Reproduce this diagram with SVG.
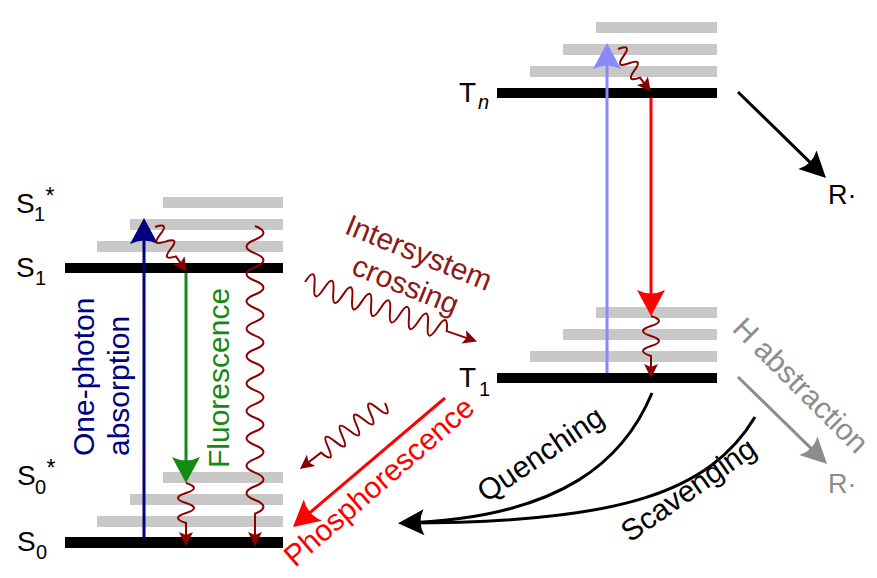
<svg xmlns="http://www.w3.org/2000/svg" width="877" height="578" viewBox="0 0 877 578">
<style>
text{font-family:"Liberation Sans",Arial,Helvetica,sans-serif;}
.bar{fill:#000}
.vib{fill:#c8c8c8}
.lbl{font-size:28px}
.sb{font-size:20px}
.ast{font-size:23px}
.big{font-size:30px}
.ln{fill:none;stroke-width:3}
.wv{fill:none;stroke:#8b0000;stroke-width:2;marker-end:url(#mw)}
</style>
<defs>
<marker id="aNavy" markerUnits="userSpaceOnUse" viewBox="-20 -15 30 30" markerWidth="30" markerHeight="30" refX="0" refY="0" orient="auto"><path d="M8,0 L-18,-14 Q-11,0 -18,14 Z" fill="#000080"/></marker>
<marker id="aGreen" markerUnits="userSpaceOnUse" viewBox="-20 -15 30 30" markerWidth="30" markerHeight="30" refX="0" refY="0" orient="auto"><path d="M8,0 L-18,-14 Q-11,0 -18,14 Z" fill="#138a13"/></marker>
<marker id="aBlue" markerUnits="userSpaceOnUse" viewBox="-20 -15 30 30" markerWidth="30" markerHeight="30" refX="0" refY="0" orient="auto"><path d="M8,0 L-18,-14 Q-11,0 -18,14 Z" fill="#8888ff"/></marker>
<marker id="aRed" markerUnits="userSpaceOnUse" viewBox="-20 -15 30 30" markerWidth="30" markerHeight="30" refX="0" refY="0" orient="auto"><path d="M8,0 L-18,-14 Q-11,0 -18,14 Z" fill="#ff0000"/></marker>
<marker id="aBlack" markerUnits="userSpaceOnUse" viewBox="-20 -15 30 30" markerWidth="30" markerHeight="30" refX="0" refY="0" orient="auto"><path d="M8,0 L-18,-13 Q-11,0 -18,13 Z" fill="#000"/></marker>
<marker id="aGray" markerUnits="userSpaceOnUse" viewBox="-20 -15 30 30" markerWidth="30" markerHeight="30" refX="0" refY="0" orient="auto"><path d="M8,0 L-18,-13 Q-11,0 -18,13 Z" fill="#8c8c8c"/></marker>
<marker id="mw" markerUnits="userSpaceOnUse" viewBox="-10 -8 18 16" markerWidth="18" markerHeight="16" refX="0" refY="0" orient="auto"><path d="M6,0 L-8,-7 L-5,0 L-8,7 Z" fill="#8b0000"/></marker>
</defs>
<rect width="877" height="578" fill="#fff"/>

<g id="S1">
<rect class="vib" x="163" y="197" width="120" height="11"/>
<rect class="vib" x="130" y="219" width="153" height="11"/>
<rect class="vib" x="97" y="241" width="186" height="11"/>
<rect class="bar" x="65" y="263" width="218" height="10"/>
<text class="lbl" x="16" y="213">S<tspan class="sb" x="34" y="221">1</tspan><tspan class="ast" x="45.5" y="204">*</tspan></text>
<text class="lbl" x="16" y="277">S<tspan class="sb" x="35" y="285">1</tspan></text>
</g>

<g id="S0">
<rect class="vib" x="163" y="472" width="120" height="11"/>
<rect class="vib" x="130" y="494" width="153" height="11"/>
<rect class="vib" x="97" y="516" width="186" height="11"/>
<rect class="bar" x="65" y="537" width="218" height="11"/>
<text class="lbl" x="17" y="485">S<tspan class="sb" x="35" y="494">0</tspan><tspan class="ast" x="46.5" y="476">*</tspan></text>
<text class="lbl" x="17" y="551">S<tspan class="sb" x="36" y="559">0</tspan></text>
</g>

<g id="Tn">
<rect class="vib" x="596" y="22" width="121" height="11"/>
<rect class="vib" x="563" y="44" width="154" height="11"/>
<rect class="vib" x="530" y="66" width="187" height="11"/>
<rect class="bar" x="497" y="88" width="220" height="10"/>
<text class="lbl" x="459" y="102">T<tspan class="sb" x="478" y="109" font-style="italic">n</tspan></text>
</g>

<g id="T1">
<rect class="vib" x="596" y="307" width="121" height="11"/>
<rect class="vib" x="563" y="329" width="154" height="11"/>
<rect class="vib" x="530" y="351" width="187" height="11"/>
<rect class="bar" x="497" y="373" width="220" height="10"/>
<text class="lbl" x="459" y="387">T<tspan class="sb" x="479" y="396">1</tspan></text>
</g>

<g id="R1">
<text font-size="27" x="828" y="204">R·</text>
</g>
<g id="R2">
<text font-size="27" x="828" y="493" fill="#8c8c8c">R·</text>
</g>

<g id="connectors">
<path class="ln" stroke="#000080" d="M144,537 L144,226" marker-end="url(#aNavy)"/>
<path class="ln" stroke="#138a13" d="M186,273 L186,475" marker-end="url(#aGreen)"/>
<path class="ln" stroke="#8888ff" d="M607,373 L607,51" marker-end="url(#aBlue)"/>
<path class="ln" stroke="#ff0000" d="M651,98 L651,308" marker-end="url(#aRed)"/>
<path class="ln" stroke="#ff0000" d="M445,398 L299.1,521.8" marker-end="url(#aRed)"/>
<path class="ln" stroke="#000" d="M738,92 L820.3,172.4" marker-end="url(#aBlack)"/>
<path class="ln" stroke="#8c8c8c" d="M738,377 L821.3,458.4" marker-end="url(#aGray)"/>
<path class="ln" stroke="#000" d="M652,393 C625,458 565,517 406,523" marker-end="url(#aBlack)"/>
<path class="ln" stroke="#000" d="M755,417 C710,492 620,523 406,523"/>

<path class="wv" d="M255,226 q17,6.85 0,13.7 t0,13.7 t0,13.7 t0,13.7 t0,13.7 t0,13.7 t0,13.7 t0,13.7 t0,13.7 t0,13.7 t0,13.7 t0,13.7 t0,13.7 t0,13.7 t0,13.7 t0,13.7 t0,13.7 t0,13.7 t0,13.7 t0,13.7 t0,13.7 L255,540"/>
<path class="wv" d="M186,483 q16,5 0,10 t0,10 t0,10 t0,10 L186,540"/>
<path class="wv" d="M651,316 q16,5 0,10 t0,10 t0,10 t0,10 L651,372"/>
<path class="wv" transform="translate(155,227) rotate(54.6)" d="M0,0 q4.5,-15 9,0 t9,0 t9,0 t9,0 L49,0"/>
<path class="wv" transform="translate(618,49) rotate(52.5)" d="M0,0 q4.5,-15 9,0 t9,0 t9,0 t9,0 L48,0"/>
<path class="wv" transform="translate(305,282) rotate(19.1)" d="M0,0 q5,-20 10,0 t10,0 t10,0 t10,0 t10,0 t10,0 t10,0 t10,0 t10,0 t10,0 t10,0 t10,0 t10,0 t10,0 t10,0 L176,0"/>
<path class="wv" transform="translate(385,403) rotate(142.2)" d="M0,0 q4.5,-19 9,0 t9,0 t9,0 t9,0 t9,0 t9,0 t9,0 t9,0 t9,0 L101.6,0"/>

<text class="big" fill="#000080" transform="translate(94,456) rotate(-90)">One-photon</text>
<text class="big" fill="#000080" transform="translate(129,456) rotate(-90)">absorption</text>
<text class="big" fill="#138a13" transform="translate(229,468) rotate(-90)">Fluorescence</text>
<g fill="#8b1a1a" transform="translate(415,262) rotate(22)">
<text class="big" text-anchor="middle" x="0" y="0">Intersystem</text>
<text class="big" text-anchor="middle" x="0" y="35">crossing</text>
</g>
<text class="big" fill="#ff0000" font-size="31" transform="translate(295,568) rotate(-41)">Phosphorescence</text>
<text class="big" transform="translate(486,503) rotate(-34)">Quenching</text>
<text class="big" transform="translate(630,543) rotate(-35)">Scavenging</text>
<text class="big" fill="#8c8c8c" transform="translate(731,330) rotate(45)">H abstraction</text>
</g>
</svg>
